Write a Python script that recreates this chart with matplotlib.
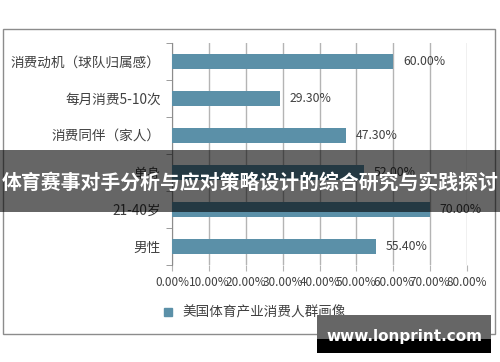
import matplotlib
matplotlib.use("Agg")
import matplotlib.pyplot as plt
from matplotlib.patches import Rectangle
from matplotlib.lines import Line2D

plt.rcParams['font.family'] = ['Noto Sans CJK SC', 'DejaVu Sans']

# data (top to bottom)
categories = ["消费动机（球队归属感）", "每月消费5-10次", "消费同伴（家人）", "单身", "21-40岁", "男性"]
values = [60.00, 29.30, 47.30, 52.00, 70.00, 55.40]
xticks = [0, 10, 20, 30, 40, 50, 60, 70, 80]
series_name = "美国体育产业消费人群画像"
banner = "体育赛事对手分析与应对策略设计的综合研究与实践探讨"
watermark = "www.lonprint.com"

bar_color = "#5B90A8"
text_color = "#404040"
grid_color = "#B4B4B4"

fig = plt.figure(figsize=(5, 3.62), dpi=100)

# outer chart border
fig.patches.append(Rectangle((3 / 500, 1 - 334 / 362), 492 / 500, 305 / 362,
                             transform=fig.transFigure, fill=False,
                             edgecolor="#8C8C8C", linewidth=1.0, zorder=1))

ax = fig.add_axes([172 / 500, 1 - 265 / 362, 295 / 500, 222 / 362])
ypos = list(range(len(categories)))
ax.barh(ypos, values, height=0.4, color=bar_color, zorder=3)
ax.set_xlim(0, 80)
ax.set_ylim(len(categories) - 0.5, -0.5)

ax.set_xticks(xticks)
ax.set_xticklabels([f"{t:.2f}%" for t in xticks], fontsize=8.5, color=text_color)
ax.set_yticks(ypos)
ax.set_yticklabels(categories, fontsize=9.8, color=text_color)
ax.tick_params(axis="y", length=0, pad=8)
ax.set_yticks([i - 0.5 for i in range(len(categories) + 1)], minor=True)
ax.tick_params(axis="y", which="minor", length=4, color="#8C8C8C")
ax.tick_params(axis="x", length=4, color=grid_color, pad=4)

ax.grid(axis="x", color=grid_color, linewidth=1.0, zorder=0)
for s in ["top", "right", "bottom"]:
    ax.spines[s].set_visible(False)
ax.spines["left"].set_color("#8C8C8C")

for y, v in zip(ypos, values):
    ax.annotate(f"{v:.2f}%", (v, y), xytext=(7, 0), textcoords="offset points",
                va="center", ha="left", fontsize=8.8, color=text_color, zorder=4)

handle = Line2D([], [], marker="s", linestyle="none", markersize=6,
                markerfacecolor=bar_color, markeredgecolor=bar_color)
fig.legend([handle], [series_name], loc="center", bbox_to_anchor=(0.5, 1 - 313 / 362),
           frameon=False, fontsize=9.8, handletextpad=0.1, labelcolor=text_color)

# dark overlay banner with title
fig.patches.append(Rectangle((0, 1 - 212 / 362), 1, 62 / 362, transform=fig.transFigure,
                             facecolor="black", alpha=0.6, edgecolor="none", zorder=10))
fig.text(0.5, 1 - 182 / 362, banner, ha="center", va="center", fontsize=14.3,
         fontweight="bold", color="white", zorder=11)

# watermark box
fig.patches.append(Rectangle((317 / 500, 1 - 339 / 362), 174 / 500, 24 / 362,
                             transform=fig.transFigure, facecolor="#666666",
                             edgecolor="none", zorder=10))
fig.patches.append(Rectangle((317 / 500, 1 - 353 / 362), 174 / 500, 14 / 362,
                             transform=fig.transFigure, facecolor="black",
                             edgecolor="none", zorder=10))
fig.text(404 / 500, 1 - 337 / 362, watermark, ha="center", va="center", fontsize=11,
         fontweight="bold", color="white", family="DejaVu Sans", zorder=11)

fig.savefig("out.png", dpi=100)
